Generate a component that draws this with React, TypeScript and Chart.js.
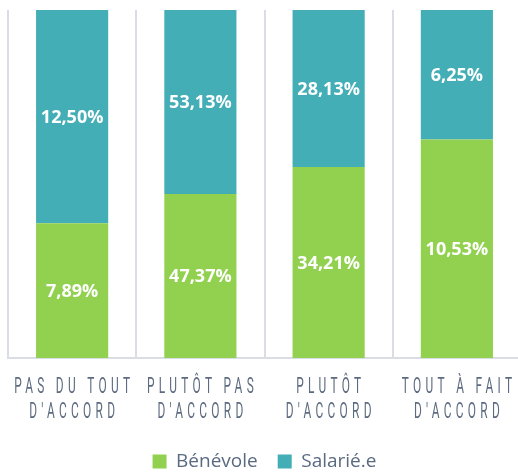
import React, { useEffect, useRef } from "react";
import { Chart, registerables } from "chart.js";

Chart.register(...registerables);

const categories: string[][] = [
  ["PAS DU TOUT", "D'ACCORD"],
  ["PLUTÔT PAS", "D'ACCORD"],
  ["PLUTÔT", "D'ACCORD"],
  ["TOUT À FAIT", "D'ACCORD"],
];
const seriesNames = ["Bénévole", "Salarié.e"];
const benevole = [7.89, 47.37, 34.21, 10.53];
const salarie = [12.5, 53.13, 28.13, 6.25];
const seriesColors = ["#92D050", "#43AEB6"];

const fmt = (v: number) => v.toFixed(2).replace(".", ",") + "%";

const segLabels = {
  id: "segLabels",
  afterDatasetsDraw(chart: any) {
    const ctx = chart.ctx;
    ctx.save();
    ctx.font = "bold 18px 'Open Sans', sans-serif";
    ctx.fillStyle = "#ffffff";
    ctx.textAlign = "center";
    ctx.textBaseline = "middle";
    chart.data.datasets.forEach((ds: any, di: number) => {
      const meta = chart.getDatasetMeta(di);
      meta.data.forEach((bar: any, i: number) => {
        const p = bar.getProps(["x", "y", "base"], true);
        ctx.fillText(fmt(ds.rawValues[i]), p.x, (p.y + p.base) / 2 + 1);
      });
    });
    ctx.restore();
  },
};

// Condensed, letter-spaced category labels drawn at the x scale's tick positions
const condensedTicks = {
  id: "condensedTicks",
  afterDraw(chart: any) {
    const ctx = chart.ctx;
    const xs = chart.scales.x;
    const sx = 0.54;
    const spacing = 8;
    ctx.save();
    ctx.font = "22px Roboto, sans-serif";
    ctx.fillStyle = "#5d6b80";
    ctx.textAlign = "left";
    ctx.textBaseline = "alphabetic";
    (ctx as any).letterSpacing = spacing + "px";
    const labels = chart.data.labels as string[][];
    labels.forEach((lines, i) => {
      const cx = xs.getPixelForValue(i);
      lines.forEach((line, j) => {
        const w = ctx.measureText(line).width - spacing;
        ctx.save();
        ctx.translate(cx, xs.top + 35 + j * 25);
        ctx.scale(sx, 1);
        ctx.fillText(line, -w / 2, 0);
        ctx.restore();
      });
    });
    ctx.restore();
  },
};

export default function App() {
  const ref = useRef<HTMLCanvasElement>(null);
  useEffect(() => {
    if (!ref.current) return;
    const totals = benevole.map((v, i) => v + salarie[i]);
    const chart = new Chart(ref.current, {
      type: "bar",
      data: {
        labels: categories,
        datasets: [
          {
            label: seriesNames[0],
            data: benevole.map((v, i) => (v / totals[i]) * 100),
            rawValues: benevole,
            backgroundColor: seriesColors[0],
            barPercentage: 0.5625,
            categoryPercentage: 1,
          } as any,
          {
            label: seriesNames[1],
            data: salarie.map((v, i) => (v / totals[i]) * 100),
            rawValues: salarie,
            backgroundColor: seriesColors[1],
            barPercentage: 0.5625,
            categoryPercentage: 1,
          } as any,
        ],
      },
      options: {
        animation: false,
        responsive: false,
        layout: { padding: { top: 10, left: 8, right: 1, bottom: -5 } },
        plugins: {
          tooltip: { enabled: false },
          legend: {
            position: "bottom",
            labels: {
              boxWidth: 14,
              boxHeight: 14,
              padding: 20,
              color: "#5a6a80",
              font: { family: "'Open Sans', sans-serif", size: 19 },
            },
          },
        },
        scales: {
          x: {
            stacked: true,
            grid: { display: true, offset: true, color: "#dadde3", lineWidth: 2, drawTicks: false },
            border: { display: true, color: "#dadde3", width: 2 },
            ticks: { display: false },
            afterFit: (s: any) => {
              s.height = 74;
            },
          },
          y: { stacked: true, display: false, min: 0, max: 100 },
        },
      },
      plugins: [segLabels, condensedTicks],
    });
    return () => chart.destroy();
  }, []);
  return (
    <div style={{ position: "fixed", left: 0, top: 0, width: 518, height: 476, overflow: "hidden", background: "#fff" }}>
      <canvas ref={ref} width={522} height={476} style={{ display: "block" }} />
    </div>
  );
}
